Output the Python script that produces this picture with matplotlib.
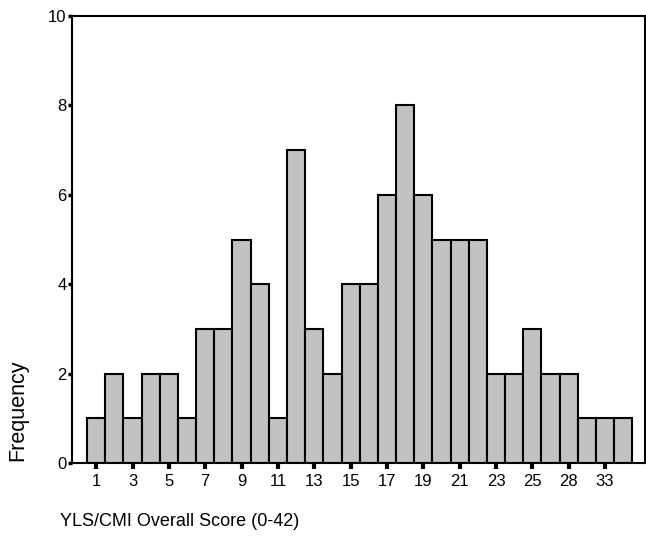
import matplotlib
matplotlib.use('Agg')
import matplotlib.pyplot as plt
import numpy as np

plt.rcParams['font.family'] = ['Liberation Sans', 'DejaVu Sans']

# score categories (only every other one is labelled in the original)
scores = [1, 2, 3, 4, 5, 6, 7, 8, 9, 10, 11, 12, 13, 14, 15, 16, 17, 18, 19, 20,
          21, 22, 23, 24, 25, 27, 28, 30, 33, 35]
freq = [1, 2, 1, 2, 2, 1, 3, 3, 5, 4, 1, 7, 3, 2, 4, 4, 6, 8, 6, 5,
        5, 5, 2, 2, 3, 2, 2, 1, 1, 1]
y_ticks = [0, 2, 4, 6, 8, 10]

fig = plt.figure(figsize=(6.46, 5.47), dpi=100)
ax = fig.add_axes([72 / 646, 1 - 463 / 547, (645 - 72) / 646, (463 - 16) / 547])

x = np.arange(len(scores))
ax.bar(x, freq, width=1.0, color='#c2c2c2', edgecolor='black', linewidth=1.5)

ax.set_xlim(-1.33, 30.2)
ax.set_ylim(0, 10)
ax.set_xticks(x[::2])
ax.set_xticklabels([str(s) for s in scores[::2]], fontsize=12)
ax.set_yticks(y_ticks)
ax.set_yticklabels([str(v) for v in y_ticks], fontsize=12)
ax.tick_params(axis='x', length=4, width=3, pad=4)
ax.tick_params(axis='y', length=3, width=2.5, pad=1)

for sp in ax.spines.values():
    sp.set_linewidth(1.5)

fig.text(60 / 646, 1 - 521 / 547, 'YLS/CMI Overall Score (0-42)', fontsize=13,
         ha='left', va='center')
fig.text(18 / 646, 1 - 410 / 547, 'Frequency', fontsize=15.5, rotation=90,
         ha='center', va='center')

fig.savefig('out.png', dpi=100)
